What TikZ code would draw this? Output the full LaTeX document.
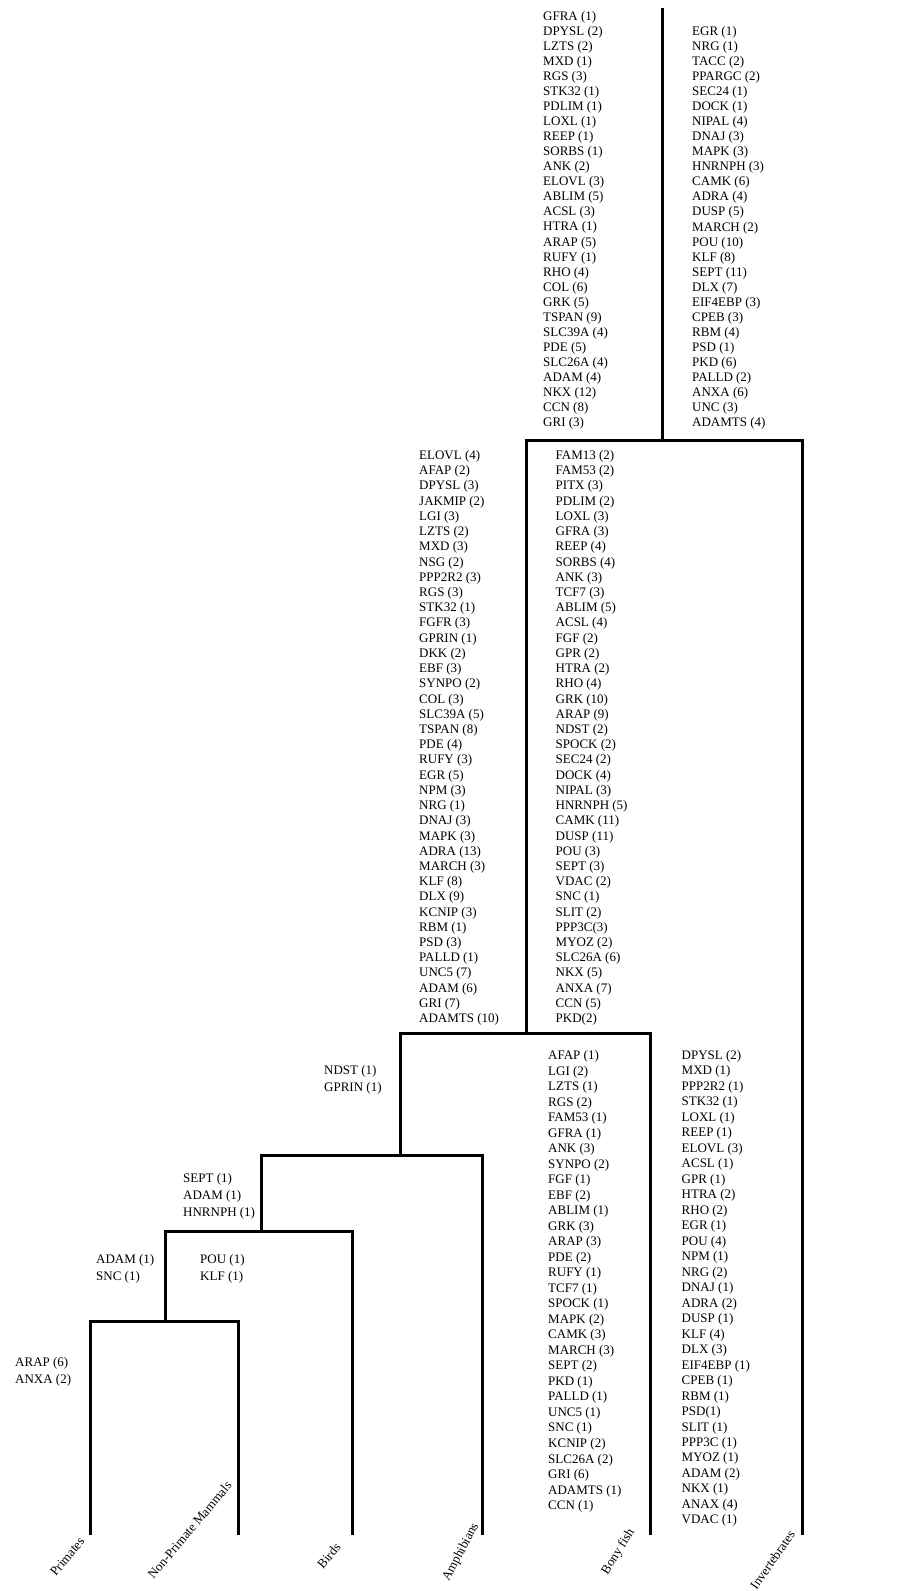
\documentclass[tikz,border=0pt]{standalone}
\usepackage{fontspec}
\setmainfont{Liberation Serif}
\begin{document}
\begin{tikzpicture}[x=1pt,y=-1pt,
  lbl/.style={anchor=base west,inner sep=0pt,font=\fontsize{13}{15}\selectfont},
  br/.style={line width=3pt,line join=miter},
  taxon/.style={anchor=east,rotate=50,inner sep=0pt,font=\fontsize{13}{15}\selectfont}]
\useasboundingbox[fill=white] (0,0) rectangle (911,1591);
% tree coordinates
\coordinate (root) at (662,8);
\coordinate (j1) at (662,440);
\coordinate (c1) at (526,1033);
\coordinate (inv) at (802,1535);
\coordinate (c2) at (400,1155);
\coordinate (bony) at (650,1535);
\coordinate (c3) at (261,1231);
\coordinate (amph) at (482,1535);
\coordinate (c4) at (165,1321);
\coordinate (bird) at (352,1535);
\coordinate (prim) at (90,1535);
\coordinate (npm) at (238,1535);
\draw[br] (root) -- (j1);
\draw[br] (c1) |- (inv |- j1) -- (inv);
\draw[br] (c2) |- (bony |- c1) -- (bony);
\draw[br] (c3) |- (amph |- c2) -- (amph);
\draw[br] (c4) |- (bird |- c3) -- (bird);
\draw[br] (prim) |- (npm |- c4) -- (npm);
% taxon labels
\node[taxon] (tprim) at (82,1539) {Primates};
\node[taxon] (tnpm) at (229,1483) {Non-Primate Mammals};
\node[taxon] (tbird) at (338,1545) {Birds};
\node[taxon,rotate=12] (tamph) at (476,1524) {Amphibians};
\node[taxon,rotate=8] (tbony) at (632,1530) {Bony fish};
\node[taxon,rotate=5] (tinv) at (792,1532) {Invertebrates};
% column A
\foreach \t [count=\i] in {GFRA (1),DPYSL (2),LZTS (2),MXD (1),RGS (3),STK32 (1),PDLIM (1),LOXL (1),REEP (1),SORBS (1),ANK (2),ELOVL (3),ABLIM (5),ACSL (3),HTRA (1),ARAP (5),RUFY (1),RHO (4),COL (6),GRK (5),TSPAN (9),SLC39A (4),PDE (5),SLC26A (4),ADAM (4),NKX (12),CCN (8),GRI (3)}
  \node[lbl] (a\i) at (543,{20+15.07*(\i-1)}) {\t};
% column B
\foreach \t [count=\i] in {EGR (1),NRG (1),TACC (2),PPARGC (2),SEC24 (1),DOCK (1),NIPAL (4),DNAJ (3),MAPK (3),HNRNPH (3),CAMK (6),ADRA (4),DUSP (5),MARCH (2),POU (10),KLF (8),SEPT (11),DLX (7),EIF4EBP (3),CPEB (3),RBM (4),PSD (1),PKD (6),PALLD (2),ANXA (6),UNC (3),ADAMTS (4)}
  \node[lbl] (b\i) at (692,{35.5+15.04*(\i-1)}) {\t};
% column C
\foreach \t [count=\i] in {ELOVL (4),AFAP (2),DPYSL (3),JAKMIP (2),LGI (3),LZTS (2),MXD (3),NSG (2),PPP2R2 (3),RGS (3),STK32 (1),FGFR (3),GPRIN (1),DKK (2),EBF (3),SYNPO (2),COL (3),SLC39A (5),TSPAN (8),PDE (4),RUFY (3),EGR (5),NPM (3),NRG (1),DNAJ (3),MAPK (3),ADRA (13),MARCH (3),KLF (8),DLX (9),KCNIP (3),RBM (1),PSD (3),PALLD (1),UNC5 (7),ADAM (6),GRI (7),ADAMTS (10)}
  \node[lbl] (c\i) at (419,{459.5+15.22*(\i-1)}) {\t};
% column D
\foreach \t [count=\i] in {FAM13 (2),FAM53 (2),PITX (3),PDLIM (2),LOXL (3),GFRA (3),REEP (4),SORBS (4),ANK (3),TCF7 (3),ABLIM (5),ACSL (4),FGF (2),GPR (2),HTRA (2),RHO (4),GRK (10),ARAP (9),NDST (2),SPOCK (2),SEC24 (2),DOCK (4),NIPAL (3),HNRNPH (5),CAMK (11),DUSP (11),POU (3),SEPT (3),VDAC (2),SNC (1),SLIT (2),PPP3C(3),MYOZ (2),SLC26A (6),NKX (5),ANXA (7),CCN (5),PKD(2)}
  \node[lbl] (d\i) at (555.5,{459.5+15.22*(\i-1)}) {\t};
% column E
\foreach \t [count=\i] in {AFAP (1),LGI (2),LZTS (1),RGS (2),FAM53 (1),GFRA (1),ANK (3),SYNPO (2),FGF (1),EBF (2),ABLIM (1),GRK (3),ARAP (3),PDE (2),RUFY (1),TCF7 (1),SPOCK (1),MAPK (2),CAMK (3),MARCH (3),SEPT (2),PKD (1),PALLD (1),UNC5 (1),SNC (1),KCNIP (2),SLC26A (2),GRI (6),ADAMTS (1),CCN (1)}
  \node[lbl] (e\i) at (548,{1059.5+15.52*(\i-1)}) {\t};
% column F
\foreach \t [count=\i] in {DPYSL (2),MXD (1),PPP2R2 (1),STK32 (1),LOXL (1),REEP (1),ELOVL (3),ACSL (1),GPR (1),HTRA (2),RHO (2),EGR (1),POU (4),NPM (1),NRG (2),DNAJ (1),ADRA (2),DUSP (1),KLF (4),DLX (3),EIF4EBP (1),CPEB (1),RBM (1),PSD(1),SLIT (1),PPP3C (1),MYOZ (1),ADAM (2),NKX (1),ANAX (4),VDAC (1)}
  \node[lbl] (f\i) at (681.5,{1059.5+15.48*(\i-1)}) {\t};
% small labels
\node[lbl] (g1) at (324,1074) {NDST (1)};
\node[lbl] (g2) at (324,1091) {GPRIN (1)};
\node[lbl] (h1) at (183,1182.5) {SEPT (1)};
\node[lbl] (h2) at (183,1199.5) {ADAM (1)};
\node[lbl] (h3) at (183,1216) {HNRNPH (1)};
\node[lbl] (m1) at (96,1263.5) {ADAM (1)};
\node[lbl] (m2) at (96,1280.5) {SNC (1)};
\node[lbl] (n1) at (200,1263.5) {POU (1)};
\node[lbl] (n2) at (200,1280.5) {KLF (1)};
\node[lbl] (p1) at (15,1366) {ARAP (6)};
\node[lbl] (p2) at (15,1383.5) {ANXA (2)};
\end{tikzpicture}
\end{document}
